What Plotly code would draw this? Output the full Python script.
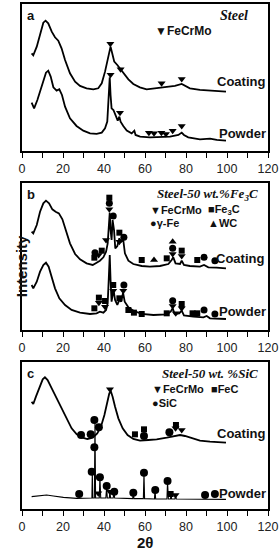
import plotly.graph_objects as go

# ---------------- Panel a (Steel) ----------------
a_coat_x = [4.7, 5.5, 7.2, 8.8, 10.4, 11.5, 12.8, 14.5, 16.1, 17.7, 19.3, 21.0, 23.4, 25.9, 28.3, 31.5, 34.8, 37.2, 38.9, 40.5, 41.6, 42.6, 43.2, 44.0, 45.0, 46.5, 47.8, 49.4, 51.9, 54.3, 57.5, 60.8, 65.7, 70.5, 74.6, 77.9, 79.5, 81.9, 86.8, 91.7, 96.6, 99.5]
a_coat_y = [293, 287, 313, 353, 385, 391, 383, 358, 341, 331, 308, 273, 233, 208, 195, 188, 185, 188, 203, 238, 273, 303, 313, 293, 268, 258, 248, 235, 215, 201, 191, 185, 188, 191, 195, 201, 195, 188, 183, 181, 178, 178]
a_pow_x = [4.7, 5.9, 7.5, 9.6, 11.7, 12.8, 14.0, 15.3, 16.9, 18.2, 19.5, 21.0, 23.4, 26.6, 29.9, 33.2, 36.4, 38.9, 40.5, 41.6, 42.3, 42.8, 43.2, 43.7, 44.6, 45.7, 46.7, 47.5, 48.1, 49.4, 51.1, 53.5, 54.8, 55.4, 57.6, 62.4, 67.3, 72.2, 76.3, 77.9, 79.0, 81.1, 86.8, 91.7, 95.0, 99.5]
a_pow_y = [145, 128, 153, 198, 235, 241, 223, 191, 181, 185, 168, 133, 98, 75, 61, 53, 51, 55, 68, 88, 153, 221, 168, 128, 123, 108, 91, 103, 88, 75, 61, 53, 61, 48, 43, 41, 43, 43, 48, 55, 48, 41, 35, 37, 33, 31]
a_coat_fecrmo_x = [43.1, 48.1, 68.1, 77.9]
a_coat_fecrmo_y = [322, 245, 203, 216]
a_pow_fecrmo_x = [43.2, 47.8, 61.9, 64.4, 68.0, 70.2, 73.5, 77.9]
a_pow_fecrmo_y = [229, 115, 55, 53, 55, 51, 61, 75]

# ---------------- Panel b (Steel-50 wt.% Fe3C) ----------------
b_coat_x = [4.7, 5.5, 7.2, 8.8, 10.4, 11.7, 13.2, 14.8, 16.4, 18.0, 19.7, 21.3, 23.4, 25.9, 28.3, 31.5, 34.5, 36.4, 38.0, 39.7, 41.0, 41.8, 42.3, 42.8, 43.2, 43.7, 44.2, 44.9, 45.5, 46.5, 47.5, 48.4, 49.4, 50.2, 51.9, 54.3, 58.4, 62.4, 67.3, 71.4, 73.0, 73.8, 74.9, 77.1, 77.9, 79.0, 81.9, 86.8, 88.8, 90.9, 94.9, 99.5]
b_coat_y = [295, 290, 315, 355, 380, 388, 380, 362, 355, 350, 332, 300, 260, 228, 212, 200, 195, 202, 208, 218, 235, 260, 320, 352, 300, 270, 330, 300, 245, 252, 275, 265, 270, 230, 208, 198, 192, 190, 192, 198, 210, 218, 200, 198, 208, 195, 192, 190, 195, 188, 187, 185]
b_pow_x = [4.7, 5.5, 7.2, 8.8, 10.4, 11.7, 13.0, 14.5, 16.1, 18.2, 21.0, 24.2, 28.3, 33.2, 36.4, 38.0, 39.7, 41.0, 41.8, 42.3, 42.8, 43.2, 43.7, 44.2, 44.7, 45.4, 46.5, 47.5, 48.4, 49.3, 50.1, 51.9, 54.3, 58.4, 64.1, 70.6, 72.5, 73.5, 74.5, 76.7, 77.9, 79.0, 83.6, 88.5, 90.1, 91.7, 99.5]
b_pow_y = [135, 125, 145, 175, 195, 202, 190, 160, 125, 95, 75, 60, 52, 48, 50, 55, 52, 60, 80, 150, 225, 150, 85, 105, 118, 90, 75, 90, 85, 112, 85, 68, 58, 48, 45, 47, 55, 65, 48, 50, 58, 44, 40, 38, 42, 35, 33]
b_coat_fe3c_x = [35.3, 38.9, 42.6, 47.5, 58.4, 70.6, 77.9, 85.5]
b_coat_fe3c_y = [217, 238, 397, 292, 210, 215, 238, 210]
b_coat_gfe_x = [35.6, 42.6, 44.5, 49.7, 73.5, 88.8, 94.1]
b_coat_gfe_y = [232, 380, 342, 278, 245, 218, 208]
b_coat_fecrmo_x = [37.4, 41.0, 42.6, 47.5, 73.5, 77.9]
b_coat_fecrmo_y = [225, 270, 362, 265, 228, 222]
b_coat_wc_x = [64.4, 73.5]
b_coat_wc_y = [210, 265]
b_pow_fe3c_x = [35.3, 37.5, 40.5, 44.5, 47.5, 51.9, 54.6, 58.4, 70.6, 77.9, 83.2, 85.5]
b_pow_fe3c_y = [65, 97, 87, 135, 95, 60, 52, 48, 50, 78, 50, 50]
b_pow_fecrmo_x = [37.5, 40.5, 44.5, 49.4, 73.5, 75.0, 77.9]
b_pow_fecrmo_y = [82, 70, 118, 118, 72, 50, 65]
b_pow_gfe_x = [49.7, 73.5, 88.8, 94.1]
b_pow_gfe_y = [135, 88, 60, 48]

# ---------------- Panel c (Steel-50 wt.% SiC) ----------------
c_coat_x = [4.7, 5.5, 6.8, 8.5, 10.1, 11.2, 12.5, 14.5, 16.9, 19.3, 21.8, 24.2, 26.7, 29.1, 31.9, 34.5, 36.7, 38.5, 40.2, 41.6, 42.6, 43.4, 44.2, 45.4, 47.0, 49.1, 51.5, 54.3, 57.6, 61.6, 65.7, 70.6, 73.8, 77.1, 79.5, 82.8, 86.8, 91.7, 99.5]
c_coat_y = [322, 315, 337, 367, 389, 395, 387, 362, 332, 302, 267, 242, 224, 215, 210, 214, 227, 247, 282, 322, 347, 352, 337, 307, 272, 242, 222, 210, 205, 207, 209, 214, 217, 222, 219, 212, 205, 202, 199]
c_pow_x = [4.7, 8.8, 12.0, 15.3, 20.2, 26.7, 31.5, 33.5, 34.1, 34.3, 34.5, 35.3, 35.6, 35.9, 37.7, 38.0, 38.4, 40.9, 41.3, 41.6, 42.6, 42.9, 43.2, 44.5, 44.9, 45.2, 54.0, 54.3, 54.6, 59.2, 59.5, 59.8, 64.6, 64.9, 65.2, 70.7, 71.0, 71.4, 72.4, 72.7, 73.0, 74.6, 74.9, 75.3, 86.8, 93.3, 99.5]
c_pow_y = [37, 40, 42, 39, 35, 32, 32, 33, 33, 112, 33, 33, 257, 33, 33, 95, 33, 33, 67, 33, 33, 52, 33, 33, 52, 33, 31, 49, 31, 31, 107, 31, 30, 57, 30, 30, 82, 30, 30, 45, 30, 30, 42, 30, 29, 29, 29]
c_coat_fecrmo_x = [42.9, 74.9, 77.9]
c_coat_fecrmo_y = [359, 242, 237]
c_coat_fec_x = [55.1, 59.5, 75.1]
c_coat_fec_y = [224, 239, 252]
c_coat_sic_x = [28.8, 33.5, 35.3, 37.5, 59.5, 71.9]
c_coat_sic_y = [222, 224, 267, 245, 219, 230]
c_pow_sic_x = [27.9, 34.0, 35.3, 38.0, 41.3, 45.0, 54.3, 59.5, 65.0, 71.0, 89.3, 94.1]
c_pow_sic_y = [45, 112, 185, 95, 69, 52, 49, 109, 57, 84, 42, 45]
c_pow_fecrmo_x = [37.2, 42.9, 74.9]
c_pow_fecrmo_y = [47, 52, 42]
c_pow_fec_x = [72.5]
c_pow_fec_y = [45]

x_ticks = [0, 20, 40, 60, 80, 100, 120]

SANS = "Liberation Sans, Arial, sans-serif"
SERIF = "Liberation Serif, Times New Roman, serif"

fig = go.Figure()

def line(x, y, ax, w=1.8):
    fig.add_trace(go.Scatter(x=x, y=y, mode="lines", line=dict(color="black", width=w),
                             xaxis="x" + ax, yaxis="y" + ax, showlegend=False, hoverinfo="skip"))

def marks(x, y, ax, sym, size=7):
    fig.add_trace(go.Scatter(x=x, y=y, mode="markers",
                             marker=dict(symbol=sym, color="black", size=size, line=dict(width=0)),
                             xaxis="x" + ax, yaxis="y" + ax, showlegend=False, hoverinfo="skip"))

# panel a
line(a_coat_x, a_coat_y, "")
line(a_pow_x, a_pow_y, "")
marks(a_coat_fecrmo_x, a_coat_fecrmo_y, "", "triangle-down")
marks(a_pow_fecrmo_x, a_pow_fecrmo_y, "", "triangle-down")
# panel b
line(b_coat_x, b_coat_y, "2")
line(b_pow_x, b_pow_y, "2")
marks(b_coat_fe3c_x, b_coat_fe3c_y, "2", "square", 6)
marks(b_coat_gfe_x, b_coat_gfe_y, "2", "circle")
marks(b_coat_fecrmo_x, b_coat_fecrmo_y, "2", "triangle-down")
marks(b_coat_wc_x, b_coat_wc_y, "2", "triangle-up")
marks(b_pow_fe3c_x, b_pow_fe3c_y, "2", "square", 6)
marks(b_pow_fecrmo_x, b_pow_fecrmo_y, "2", "triangle-down")
marks(b_pow_gfe_x, b_pow_gfe_y, "2", "circle")
# panel c
line(c_coat_x, c_coat_y, "3")
line(c_pow_x, c_pow_y, "3", 1.1)
marks(c_coat_fecrmo_x, c_coat_fecrmo_y, "3", "triangle-down")
marks(c_coat_fec_x, c_coat_fec_y, "3", "square", 6)
marks(c_coat_sic_x, c_coat_sic_y, "3", "circle", 8)
marks(c_pow_sic_x, c_pow_sic_y, "3", "circle", 8)
marks(c_pow_fecrmo_x, c_pow_fecrmo_y, "3", "triangle-down")
marks(c_pow_fec_x, c_pow_fec_y, "3", "square", 6)

domains = {"": [0.709, 1.0], "2": [0.3545, 0.6455], "3": [0.0, 0.2911]}
layout = dict(width=280, height=550, margin=dict(l=22, r=12, t=4, b=41),
              plot_bgcolor="white", paper_bgcolor="white", showlegend=False)
for ax, dom in domains.items():
    layout["xaxis" + ax] = dict(range=[0, 120], tickvals=x_ticks, ticks="outside", ticklen=5,
                                tickwidth=1.3, tickcolor="black", showline=True, mirror=True,
                                linecolor="black", linewidth=1.5, showgrid=False, zeroline=False,
                                minor=dict(dtick=10, tick0=0, ticks="outside", ticklen=5,
                                           tickwidth=1.3, tickcolor="black"),
                                tickfont=dict(family=SANS, size=12.5, color="#222"),
                                anchor="y" + ax, domain=[0, 1], automargin=False)
    layout["yaxis" + ax] = dict(range=[0, 441], showticklabels=False, ticks="", showline=True,
                                mirror=True, linecolor="black", linewidth=1.5, showgrid=False,
                                zeroline=False, domain=dom, anchor="x" + ax)
fig.update_layout(**layout)

def txt(ax, x, y, s, size=13, family=SANS, anchor="left"):
    fig.add_annotation(x=x, y=y, xref="x" + ax, yref="y" + ax, text=s, showarrow=False,
                       xanchor=anchor, yanchor="middle", borderpad=0,
                       font=dict(family=family, size=size, color="#111"))

# panel a texts
txt("", 2.0, 408, "<b>a</b>", 13)
txt("", 110.5, 408, "<b><i>Steel</i></b>", 14, SERIF, "right")
txt("", 64.5, 361, "<b>▼FeCrMo</b>", 12)
txt("", 94.5, 208, "<b>Coating</b>", 13)
txt("", 95.5, 51, "<b>Powder</b>", 13)
# panel b texts
txt("2", 2.0, 408, "<b>b</b>", 13)
txt("2", 115.5, 408, "<b><i>Steel-50 wt.%Fe<sub>3</sub>C</i></b>", 13, SERIF, "right")
txt("2", 62.0, 360, "<b>▼FeCrMo</b>", 11)
txt("2", 90.0, 360, "<b>■Fe<sub>3</sub>C</b>", 11)
txt("2", 62.0, 320, "<b>●γ-Fe</b>", 11)
txt("2", 90.0, 320, "<b>▲WC</b>", 11)
txt("2", 94.0, 215, "<b>Coating</b>", 13)
txt("2", 95.5, 55, "<b>Powder</b>", 13)
# panel c texts
txt("3", 2.0, 407, "<b>c</b>", 13)
txt("3", 115.5, 407, "<b><i>Steel-50 wt. %SiC</i></b>", 13, SERIF, "right")
txt("3", 63.0, 359, "<b>▼FeCrMo</b>", 11)
txt("3", 91.5, 359, "<b>■FeC</b>", 11)
txt("3", 63.0, 317, "<b>●SiC</b>", 11)
txt("3", 94.5, 227, "<b>Coating</b>", 13)
txt("3", 95.5, 45, "<b>Powder</b>", 13)

fig.add_annotation(x=-0.042, y=0.481, xref="paper", yref="paper", text="<b>Intensity</b>",
                   textangle=-90, showarrow=False, borderpad=0,
                   font=dict(family=SANS, size=15, color="#111"))
fig.add_annotation(x=0.5, y=-0.0851, xref="paper", yref="paper", text="<b>2θ</b>",
                   yanchor="bottom", showarrow=False, borderpad=0,
                   font=dict(family=SANS, size=15, color="#111"))

fig.write_html("out.html", config={"displayModeBar": False},
               post_script="document.body.style.margin='0px';document.body.style.padding='0px';")
